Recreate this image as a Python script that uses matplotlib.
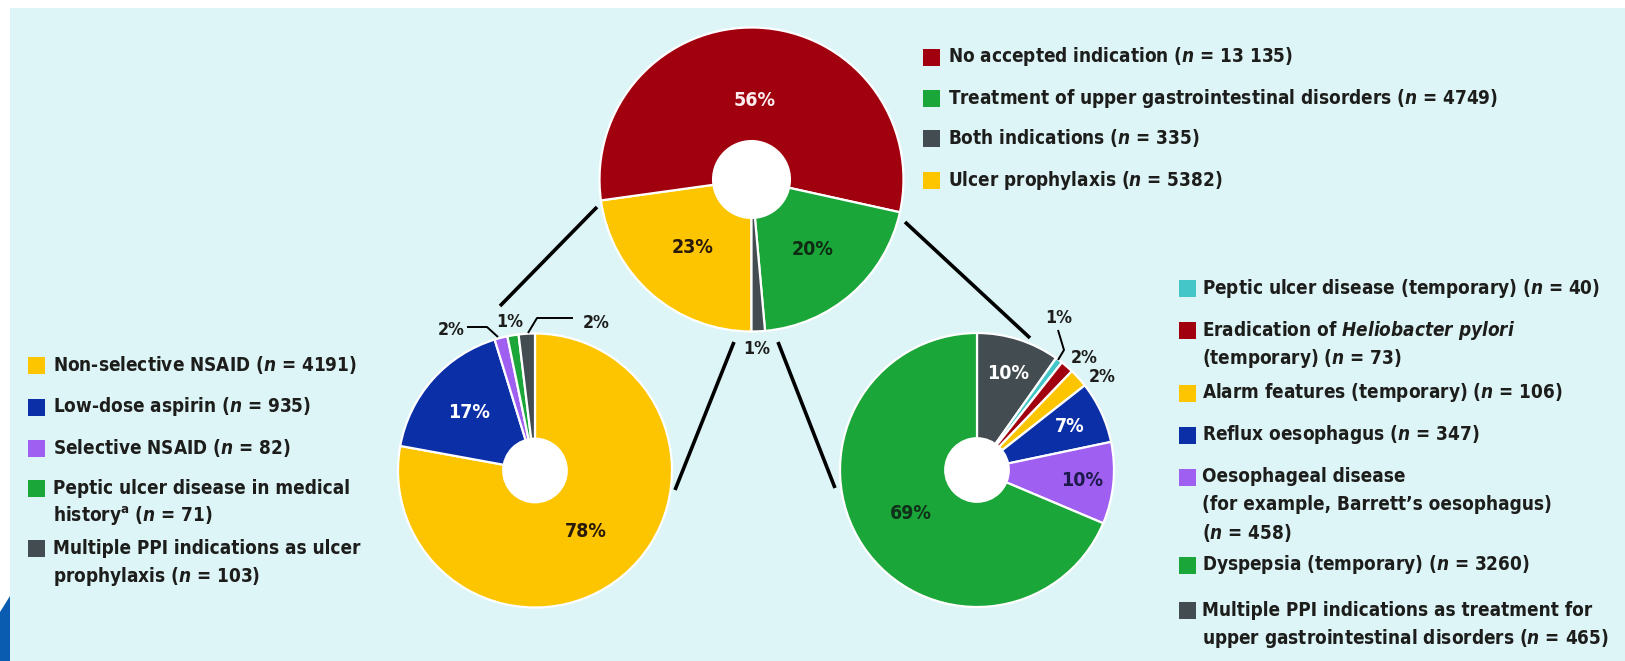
import matplotlib
matplotlib.use("Agg")
import matplotlib.pyplot as plt
from matplotlib import font_manager as fm
from matplotlib.patches import Circle, Rectangle, Polygon
import numpy as np

W, H = 1625, 661

# ---- font: prefer a narrow sans, fall back to wider ones ----------------
_names = {f.name for f in fm.fontManager.ttflist}
_dv_cond = [f for f in fm.fontManager.ttflist
            if f.name == "DejaVu Sans" and "ondensed" in f.fname]
if "Liberation Sans Narrow" in _names:
    FAM, STRETCH = "Liberation Sans Narrow", "normal"
elif _dv_cond:
    FAM, STRETCH = "DejaVu Sans", "condensed"
elif "Liberation Sans" in _names:
    FAM, STRETCH = "Liberation Sans", "normal"
else:
    FAM, STRETCH = "DejaVu Sans", "normal"

plt.rcParams["font.family"] = [FAM, "DejaVu Sans"]
plt.rcParams["font.stretch"] = STRETCH
plt.rcParams["font.weight"] = "bold"
plt.rcParams["mathtext.fontset"] = "custom"
plt.rcParams["mathtext.rm"] = f"{FAM}:bold:stretch={STRETCH}"
plt.rcParams["mathtext.it"] = f"{FAM}:italic:bold:stretch={STRETCH}"
plt.rcParams["mathtext.bf"] = f"{FAM}:bold:stretch={STRETCH}"

# ---- data -------------------------------------------------------------
# All PPI prescriptions by indication group
main_labels = ["No accepted indication", "Treatment of upper gastrointestinal disorders",
               "Both indications", "Ulcer prophylaxis"]
main_n = [13135, 4749, 335, 5382]

# Ulcer prophylaxis breakdown
proph_labels = ["Non-selective NSAID", "Low-dose aspirin", "Selective NSAID",
                "Peptic ulcer disease in medical\nhistory$^{\\mathrm{a}}$",
                "Multiple PPI indications as ulcer\nprophylaxis"]
proph_n = [4191, 935, 82, 71, 103]

# Treatment of upper gastrointestinal disorders breakdown
treat_labels = ["Peptic ulcer disease (temporary)",
                "Eradication of $\\mathit{Heliobacter\\ pylori}$\n(temporary)",
                "Alarm features (temporary)", "Reflux oesophagus",
                "Oesophageal disease\n(for example, Barrett\u2019s oesophagus)\n",
                "Dyspepsia (temporary)",
                "Multiple PPI indications as treatment for\nupper gastrointestinal disorders"]
treat_n = [40, 73, 106, 347, 458, 3260, 465]

# ---- styling ----------------------------------------------------------
RED, GREEN, GREY, YELLOW = "#a1000e", "#1ba63a", "#424c51", "#fdc500"
BLUE, PURPLE, CYAN = "#0b2fa6", "#9f5ff1", "#44c6c9"
BG = "#ddf5f7"
INK = "#1d1d1b"

main_colors = [RED, GREEN, GREY, YELLOW]
proph_colors = [YELLOW, BLUE, PURPLE, GREEN, GREY]
treat_colors = [CYAN, RED, YELLOW, BLUE, PURPLE, GREEN, GREY]

fig = plt.figure(figsize=(W / 100, H / 100), dpi=100)
fig.patch.set_facecolor("white")
ax = fig.add_axes([0, 0, 1, 1])


def fit_size(sample, width_px):
    """font size at which `sample` is width_px wide"""
    t = fig.text(0, 0, sample, fontsize=10)
    w = t.get_window_extent(fig.canvas.get_renderer()).width
    t.remove()
    return 10 * width_px / w


FS = fit_size("No accepted indication ($n$ = 13 135)", 345)
FS_IN = fit_size("56%", 42)
FS_OUT = fit_size("2%", 27)


def Y(y):
    """convert a top-down pixel row into axes y"""
    return H - y


ax.add_patch(Rectangle((10, 0), W - 10, Y(8), facecolor=BG, edgecolor="none", zorder=0))
ax.add_patch(Polygon([(0, Y(612)), (10, Y(596)), (10, 0), (0, 0)],
                     closed=True, facecolor="#0a5cb0", edgecolor="none", zorder=0))


def pct(vals):
    v = np.asarray(vals, float)
    return v / v.sum() * 100


def donut(order, values, colors, cx, cy, r, start, hole):
    vals = [values[i] for i in order]
    cols = [colors[i] for i in order]
    wedges, _ = ax.pie(vals, colors=cols, startangle=start, counterclock=False,
                       center=(cx, Y(cy)), radius=r,
                       wedgeprops=dict(edgecolor="white", linewidth=1.6, zorder=2))
    ax.add_patch(Circle((cx, Y(cy)), r * hole, facecolor="white", edgecolor="none", zorder=3))
    return dict(zip(order, wedges))


def inner_label(w, cx, cy, r, dist, text, color):
    a = np.deg2rad((w.theta1 + w.theta2) / 2)
    ax.text(cx + dist * r * np.cos(a), Y(cy) + dist * r * np.sin(a), text,
            ha="center", va="center", fontsize=FS_IN, color=color, zorder=5)


def outer_label(x, y, text):
    ax.text(x, Y(y), text, ha="center", va="center", fontsize=FS_OUT, color=INK, zorder=5)


# top donut: all prescriptions
tcx, tcy, tr = 751.5, 179.5, 152
mp = pct(main_n)
tw = donut([3, 0, 1, 2], main_n, main_colors, tcx, tcy, tr, 270, 0.26)
inner_label(tw[0], tcx, tcy, tr, 0.52, f"{mp[0]:.0f}%", "#fbecee")
inner_label(tw[1], tcx, tcy, tr, 0.61, f"{mp[1]:.0f}%", "#0e2a12")
inner_label(tw[3], tcx, tcy, tr, 0.59, f"{mp[3]:.0f}%", "#2a1a0a")
outer_label(757, 349, f"{mp[2]:.0f}%")

# left donut: ulcer prophylaxis
lcx, lcy, lr = 535, 470.5, 137
pp = pct(proph_n)
lw = donut([0, 1, 2, 3, 4], proph_n, proph_colors, lcx, lcy, lr, 90, 0.24)
inner_label(lw[0], lcx, lcy, lr, 0.58, f"{pp[0]:.0f}%", "#2a1a0a")
inner_label(lw[1], lcx, lcy, lr, 0.64, f"{pp[1]:.0f}%", "white")
outer_label(451, 330, f"{pp[2]:.0f}%")
outer_label(510, 322, f"{pp[3]:.0f}%")
outer_label(596, 323, f"{pp[4]:.0f}%")

# right donut: treatment of upper GI disorders
rcx, rcy, rr = 977, 470, 137
tp = pct(treat_n)
rw = donut([6, 0, 1, 2, 3, 4, 5], treat_n, treat_colors, rcx, rcy, rr, 90, 0.24)
inner_label(rw[6], rcx, rcy, rr, 0.74, f"{tp[6]:.0f}%", "white")
inner_label(rw[3], rcx, rcy, rr, 0.75, f"{tp[3]:.0f}%", "white")
inner_label(rw[4], rcx, rcy, rr, 0.77, f"{tp[4]:.0f}%", "#1b1a4a")
inner_label(rw[5], rcx, rcy, rr, 0.58, f"{tp[5]:.0f}%", "#10301a")
outer_label(1059, 318, f"{tp[0]:.0f}%")
outer_label(1084, 358, f"{tp[1]:.0f}%")
outer_label(1102, 377, f"{tp[2]:.0f}%")


def line(pts, lw):
    xs = [p[0] for p in pts]
    ys = [Y(p[1]) for p in pts]
    ax.plot(xs, ys, color="black", lw=lw, solid_capstyle="butt", zorder=4)


# connectors between the donuts
line([(597, 207), (500, 306)], 2.6)
line([(905, 222), (1030, 338)], 2.6)
line([(734, 342), (675, 490)], 2.6)
line([(778, 342), (835, 488)], 2.6)
# leaders for the small slices
line([(467, 327), (487, 327), (498, 337)], 1.4)
line([(573, 318), (537, 318), (528, 333)], 1.4)
line([(1058, 330), (1064, 350), (1058, 360)], 1.4)


def legend_entry(x, y, color, text, sq=17, gap=8, lead=28):
    ax.add_patch(Rectangle((x, Y(y) - sq / 2), sq, sq, facecolor=color,
                           edgecolor="none", zorder=3))
    for k, t in enumerate(text.split("\n")):
        ax.text(x + sq + gap, Y(y + lead * k), t, ha="left", va="center",
                fontsize=FS, color=INK, zorder=5)


def fmt_n(n):
    return f"{n:,}".replace(",", " ") if n >= 10000 else str(n)


def with_n(label, n):
    head, _, last = label.rpartition("\n")
    tail = f"($n$ = {fmt_n(n)})"
    if last == "":
        return f"{head}\n{tail}"
    sep = "\n" if head else ""
    return f"{head}{sep}{last} {tail}"


for i, y in enumerate([57, 98, 138, 180]):
    legend_entry(923, y, main_colors[i], with_n(main_labels[i], main_n[i]))

for i, y in enumerate([365, 407, 448, 488, 548]):
    legend_entry(28, y, proph_colors[i], with_n(proph_labels[i], proph_n[i]))

for i, y in enumerate([288, 330, 393, 435, 477, 565, 610]):
    legend_entry(1179, y, treat_colors[i], with_n(treat_labels[i], treat_n[i]), gap=6)

ax.set_xlim(0, W)
ax.set_ylim(0, H)
ax.set_aspect("auto")
ax.axis("off")

fig.savefig("out.png", dpi=100, facecolor="white")
